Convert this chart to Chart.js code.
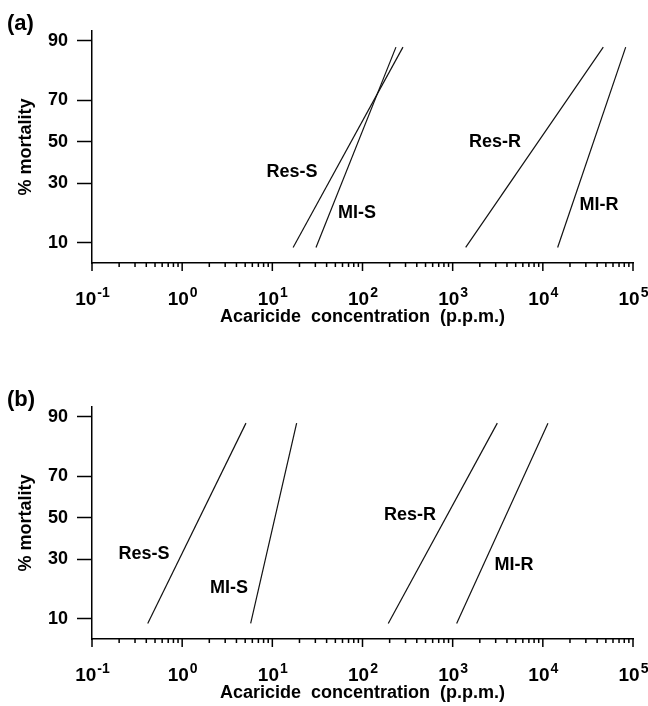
<!DOCTYPE html>
<html>
<head>
<meta charset="utf-8">
<script src="https://cdn.jsdelivr.net/npm/chart.js@4.4.1/dist/chart.umd.min.js"></script>
<style>
  body { margin: 0; background: #fff; }
  .panel { position: absolute; left: 0; }
</style>
</head>
<body>
<canvas id="chartA" class="panel" width="648" height="330" style="top:0px"></canvas>
<canvas id="chartB" class="panel" width="648" height="330" style="top:376px"></canvas>
<script>
// % mortality at the two ends of every fitted line
const mortalityEnds = [9, 88.5];

// axis ticks
const yTickPct = [10, 30, 50, 70, 90];
const yTickLabels = ['10', '30', '50', '70', '90'];
const xDecades = [-1, 0, 1, 2, 3, 4, 5];
const xMinorSteps = [2, 3, 4, 5, 6, 7, 8, 9];

const lineNames = ['Res-S', 'MI-S', 'Res-R', 'MI-R'];

// (a) concentration (p.p.m.) at the low / high end of each line
const resS_a = [17, 281];
const miS_a = [30.5, 235];
const resR_a = [1394, 46800];
const miR_a = [14600, 83000];
// where the names sit (concentration, % mortality)
const labelConc_a = [16.5, 87, 2940, 42000];
const labelPct_a = [35, 18.4, 50, 21.2];

// (b)
const resS_b = [0.415, 5.1];
const miS_b = [5.75, 18.6];
const resR_b = [193, 3125];
const miR_b = [1107, 11400];
const labelConc_b = [0.377, 3.3, 336, 4790];
const labelPct_b = [32.2, 18.6, 51.4, 27.4];

const SANS = "'Liberation Sans', Arial, sans-serif";

// inverse normal (probit) - Acklam's approximation
function probit(p) {
  const a = [-3.969683028665376e+01, 2.209460984245205e+02, -2.759285104469687e+02, 1.383577518672690e+02, -3.066479806614716e+01, 2.506628277459239e+00];
  const b = [-5.447609879822406e+01, 1.615858368580409e+02, -1.556989798598866e+02, 6.680131188771972e+01, -1.328068155288572e+01];
  const c = [-7.784894002430293e-03, -3.223964580411365e-01, -2.400758277161838e+00, -2.549732539343734e+00, 4.374664141464968e+00, 2.938163982698783e+00];
  const d = [7.784695709041462e-03, 3.224671290700398e-01, 2.445134137142996e+00, 3.754408661907416e+00];
  const pl = 0.02425;
  let q, r;
  if (p < pl) {
    q = Math.sqrt(-2 * Math.log(p));
    return (((((c[0]*q+c[1])*q+c[2])*q+c[3])*q+c[4])*q+c[5]) / ((((d[0]*q+d[1])*q+d[2])*q+d[3])*q+1);
  }
  if (p > 1 - pl) {
    q = Math.sqrt(-2 * Math.log(1 - p));
    return -(((((c[0]*q+c[1])*q+c[2])*q+c[3])*q+c[4])*q+c[5]) / ((((d[0]*q+d[1])*q+d[2])*q+d[3])*q+1);
  }
  q = p - 0.5; r = q * q;
  return (((((a[0]*r+a[1])*r+a[2])*r+a[3])*r+a[4])*r+a[5])*q / (((((b[0]*r+b[1])*r+b[2])*r+b[3])*r+b[4])*r+1);
}
const pctToY = pct => probit(pct / 100);

Chart.defaults.font.family = SANS;
Chart.defaults.font.weight = 'bold';
Chart.defaults.color = '#000';

// log axis ticks with raised exponents, panel letter, line names
const decorPlugin = {
  id: 'decor',
  afterDraw(chart, args, opts) {
    const ctx = chart.ctx;
    const xs = chart.scales.x, ys = chart.scales.y;
    const y0 = chart.chartArea.bottom;
    ctx.save();
    ctx.strokeStyle = '#000';
    ctx.lineWidth = 1.5;
    ctx.beginPath();
    xDecades.forEach(e => {
      const px = xs.getPixelForValue(Math.pow(10, e));
      ctx.moveTo(px, y0); ctx.lineTo(px, y0 + 8);
      if (e < xDecades[xDecades.length - 1]) {
        xMinorSteps.forEach(m => {
          const mx = xs.getPixelForValue(m * Math.pow(10, e));
          ctx.moveTo(mx, y0); ctx.lineTo(mx, y0 + 4);
        });
      }
    });
    ctx.stroke();

    ctx.fillStyle = '#000';
    ctx.textBaseline = 'alphabetic';
    ctx.textAlign = 'left';
    xDecades.forEach(e => {
      const px = xs.getPixelForValue(Math.pow(10, e));
      const expText = e < 0 ? '-' + Math.abs(e) : String(e);
      ctx.font = 'bold 19px ' + SANS;
      const wBase = ctx.measureText('10').width;
      ctx.font = 'bold 14px ' + SANS;
      const wExp = ctx.measureText(expText).width;
      const left = px - (wBase + wExp) / 2;
      ctx.font = 'bold 19px ' + SANS;
      ctx.fillText('10', left, y0 + 42);
      ctx.font = 'bold 14px ' + SANS;
      ctx.fillText(expText, left + wBase + 1, y0 + 34);
    });

    ctx.font = 'bold 22px ' + SANS;
    ctx.textBaseline = 'middle';
    ctx.fillText(opts.letter, 7, 24);

    ctx.font = 'bold 18px ' + SANS;
    ctx.textAlign = 'center';
    opts.names.forEach((name, i) => {
      ctx.fillText(name, xs.getPixelForValue(opts.conc[i]), ys.getPixelForValue(pctToY(opts.pct[i])));
    });
    ctx.restore();
  }
};

function makePanel(id, letter, series, labelConc, labelPct) {
  const datasets = series.map((conc, i) => ({
    label: lineNames[i],
    data: conc.map((c, k) => ({ x: c, y: pctToY(mortalityEnds[k]) })),
    borderColor: '#111',
    borderWidth: 1.2,
    pointRadius: 0,
    fill: false,
    tension: 0
  }));

  return new Chart(document.getElementById(id), {
    type: 'line',
    data: { datasets: datasets },
    plugins: [decorPlugin],
    options: {
      responsive: false,
      animation: false,
      devicePixelRatio: 1,
      layout: { padding: { left: 0, top: 31, right: 15, bottom: 0 } },
      plugins: {
        legend: { display: false },
        tooltip: { enabled: false },
        decor: { letter: letter, names: lineNames, conc: labelConc, pct: labelPct }
      },
      scales: {
        x: {
          type: 'logarithmic',
          min: 0.1,
          max: 1e5,
          bounds: 'data',
          grid: { display: false },
          border: { display: true, color: '#000', width: 1.5 },
          ticks: { display: false },
          title: {
            display: true,
            text: 'Acaricide  concentration  (p.p.m.)',
            font: { size: 18, weight: 'bold' },
            padding: { top: 0, bottom: 2 }
          },
          afterFit: s => { s.height = 67; }
        },
        y: {
          type: 'linear',
          min: pctToY(6.2),
          max: pctToY(92),
          bounds: 'data',
          afterBuildTicks: s => { s.ticks = yTickPct.map(p => ({ value: pctToY(p) })); },
          ticks: {
            padding: 9,
            font: { size: 18, weight: 'bold' },
            callback: (v, i) => yTickLabels[i]
          },
          grid: {
            display: true,
            drawOnChartArea: false,
            drawTicks: true,
            tickLength: 15,
            tickColor: '#000',
            tickWidth: 1.5
          },
          border: { display: true, color: '#000', width: 1.5 },
          title: {
            display: true,
            text: '% mortality',
            font: { size: 18, weight: 'bold' },
            padding: { top: 15, bottom: 0 }
          },
          afterFit: s => { s.width = 92; }
        }
      }
    }
  });
}

makePanel('chartA', '(a)', [resS_a, miS_a, resR_a, miR_a], labelConc_a, labelPct_a);
makePanel('chartB', '(b)', [resS_b, miS_b, resR_b, miR_b], labelConc_b, labelPct_b);
</script>
</body>
</html>
